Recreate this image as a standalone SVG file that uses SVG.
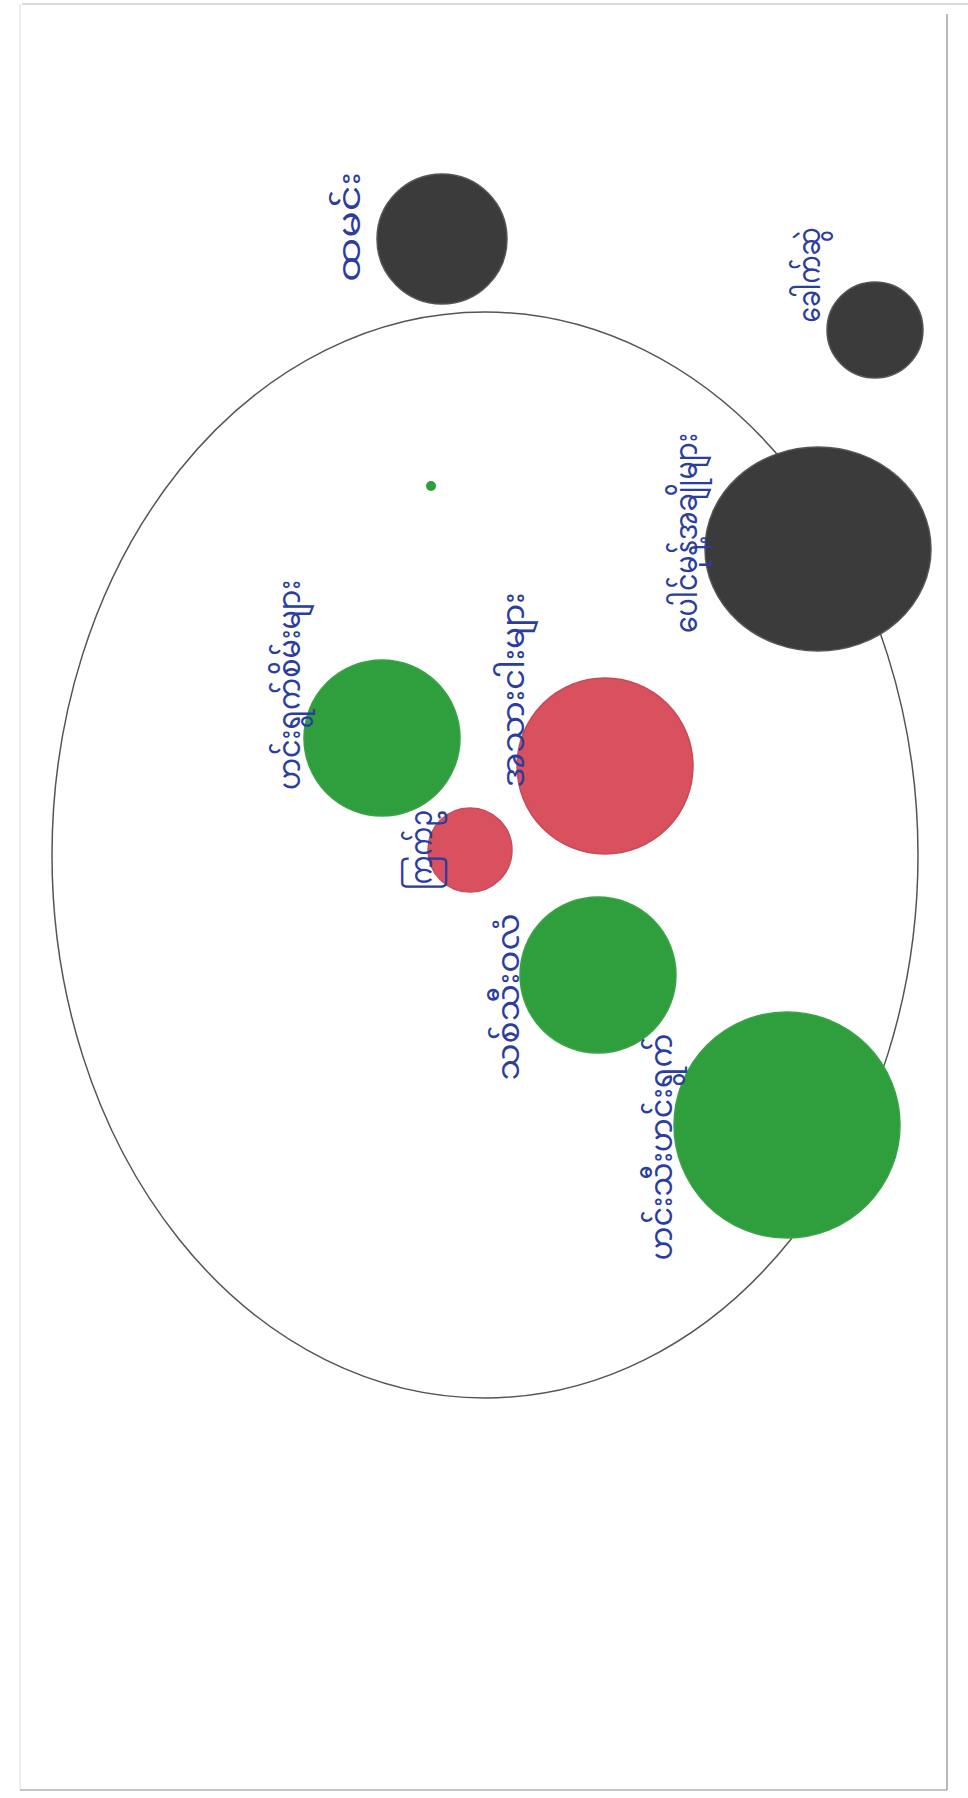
<svg xmlns="http://www.w3.org/2000/svg" width="968" height="1798" viewBox="0 0 968 1798">
<style>
.lbl{font-family:"Noto Sans Myanmar","Padauk","Myanmar Text","Noto Sans","DejaVu Sans",sans-serif;font-size:30px;fill:#2b3d9e;}
.blk{fill:#3b3b3b;stroke:#555;stroke-width:1.5}
.grn{fill:#2f9e3c;stroke:#3aa347;stroke-width:1.5}
.red{fill:#d9515f;stroke:#c94a57;stroke-width:1.5}
.frame{stroke:#8a8a8a;stroke-width:1.2;fill:none}
</style>
<rect width="968" height="1798" fill="#ffffff"/>
<g id="page">
<line class="frame" x1="22" y1="4" x2="968" y2="4" stroke-opacity="0.6"/>
<line class="frame" x1="20" y1="4" x2="20" y2="1790" stroke-opacity="0.25"/>
<line class="frame" x1="947" y1="14" x2="947" y2="1790"/>
<line class="frame" x1="20" y1="1790" x2="947" y2="1790"/>
</g>
<g id="oval">
<ellipse cx="485" cy="855" rx="433" ry="543" fill="none" stroke="#555" stroke-width="1.5"/>
</g>
<g id="dot"><circle cx="431" cy="486" r="5" fill="#2f9e3c"/></g>
<g id="n-rice"><circle class="blk" cx="442" cy="239" r="65"/>
<text class="lbl" transform="translate(360,227) rotate(-90)" text-anchor="middle" textLength="110" lengthAdjust="spacingAndGlyphs">ထမင်း</text></g>
<g id="n-noodle"><circle class="blk" cx="875" cy="330" r="48"/>
<text class="lbl" transform="translate(820,275) rotate(-90)" text-anchor="middle" textLength="95" lengthAdjust="spacingAndGlyphs">ခေါက်ဆွဲ</text></g>
<g id="n-bigblack"><ellipse class="blk" cx="818" cy="549" rx="113" ry="102"/>
<text class="lbl" transform="translate(697,533) rotate(-90)" text-anchor="middle" textLength="200" lengthAdjust="spacingAndGlyphs">ပေါင်မုန့်အချိုများ</text></g>
<g id="n-greentop"><circle class="grn" cx="382" cy="738" r="78"/>
<text class="lbl" transform="translate(300,685) rotate(-90)" text-anchor="middle" textLength="210" lengthAdjust="spacingAndGlyphs">ဟင်းရွက်စိမ်းများ</text></g>
<g id="n-redbig"><circle class="red" cx="605" cy="766" r="88"/>
<text class="lbl" transform="translate(524,690) rotate(-90)" text-anchor="middle" textLength="195" lengthAdjust="spacingAndGlyphs">အသားငါးများ</text></g>
<g id="n-redsmall"><circle class="red" cx="470" cy="850" r="42"/>
<text class="lbl" transform="translate(432,850) rotate(-90)" text-anchor="middle" textLength="80" lengthAdjust="spacingAndGlyphs">ကြက်ဥ</text></g>
<g id="n-greenmid"><circle class="grn" cx="598" cy="975" r="78"/>
<text class="lbl" transform="translate(519,997) rotate(-90)" text-anchor="middle" textLength="167" lengthAdjust="spacingAndGlyphs">သစ်သီးဝလံ</text></g>
<g id="n-greenbig"><circle class="grn" cx="787" cy="1125" r="113"/>
<text class="lbl" transform="translate(672,1147) rotate(-90)" text-anchor="middle" textLength="227" lengthAdjust="spacingAndGlyphs">ဟင်းသီးဟင်းရွက်</text></g>
<g id="connectors"/>
</svg>
